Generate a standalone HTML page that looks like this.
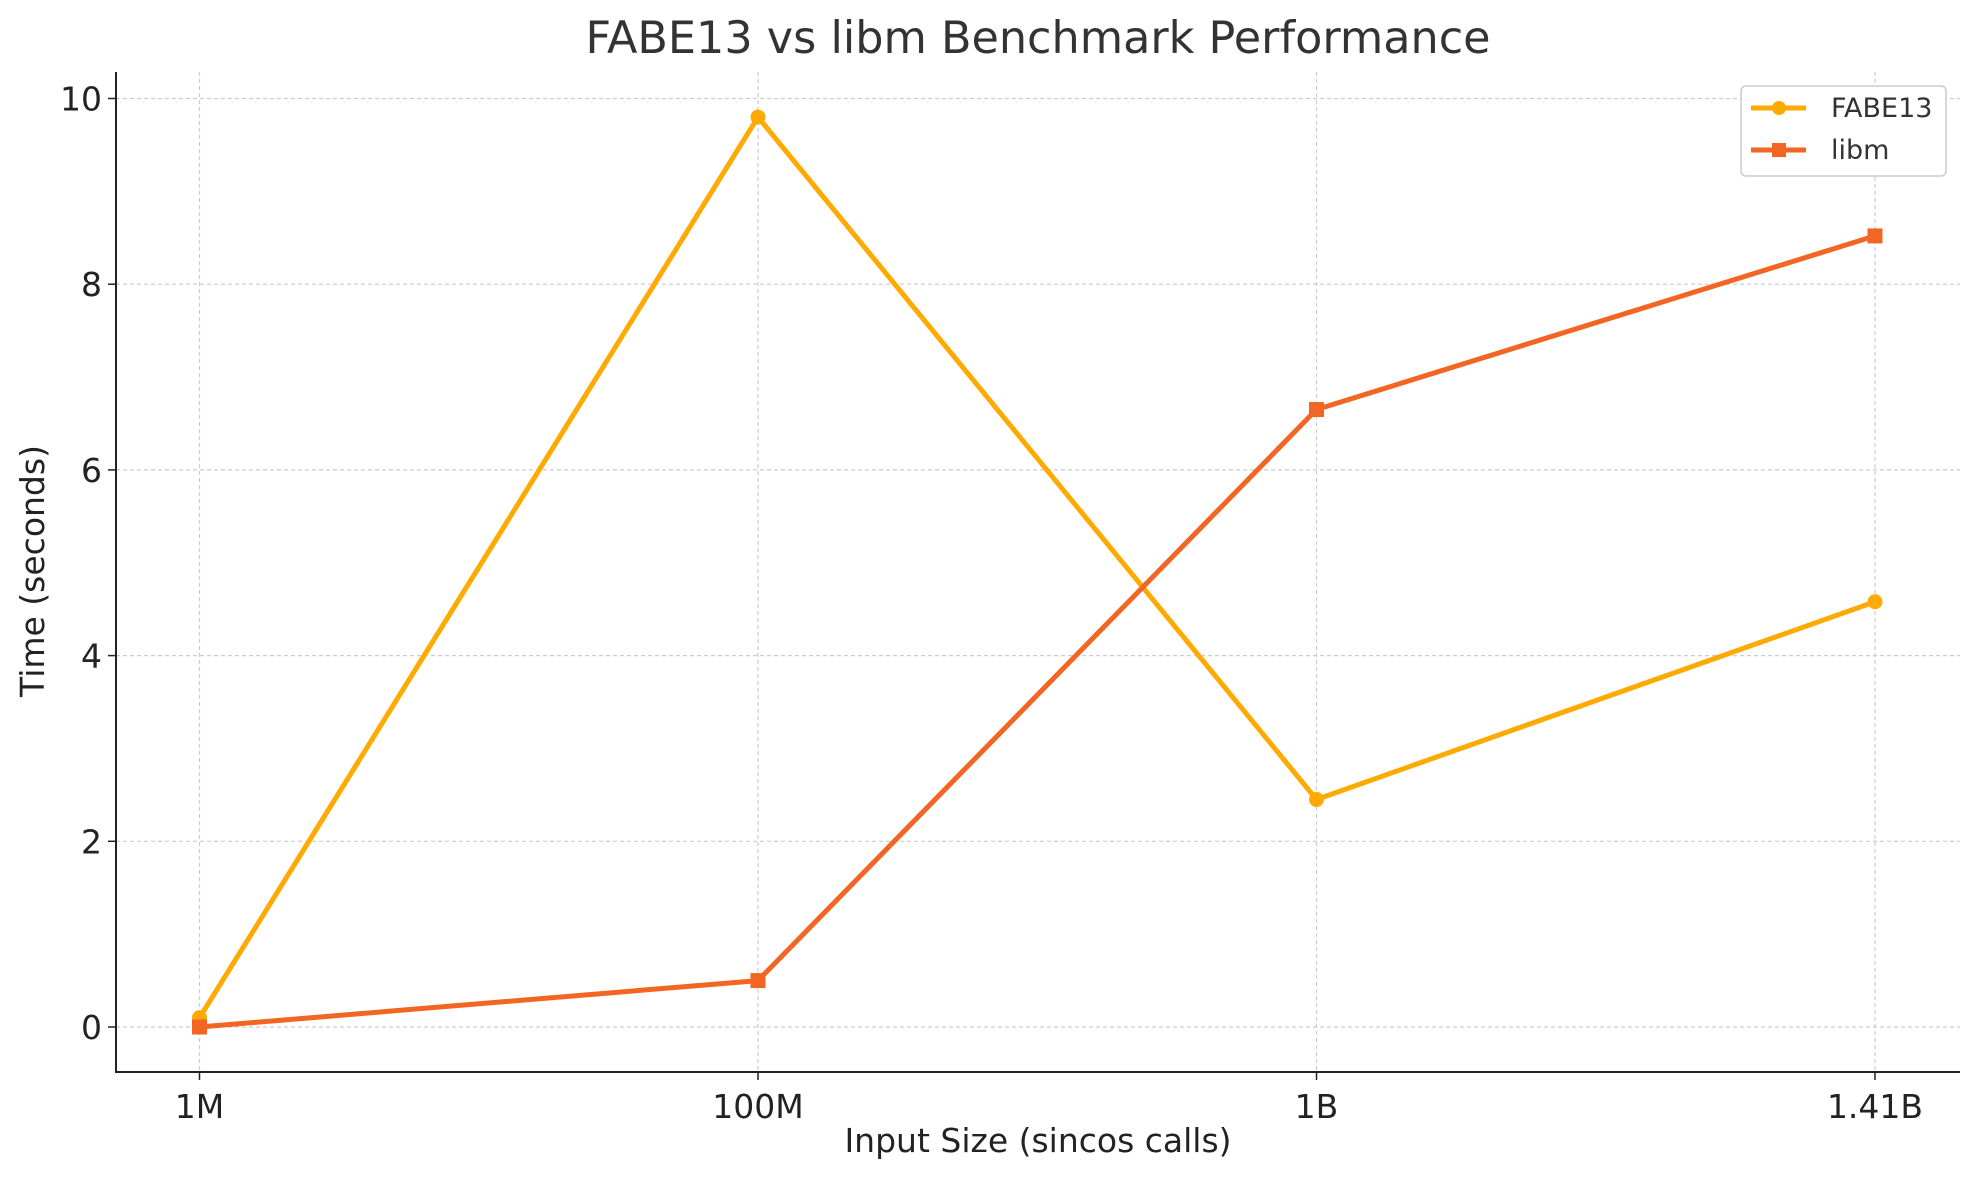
<!DOCTYPE html>
<html><head><meta charset="utf-8"><style>
html,body{margin:0;padding:0;background:#fff;}
svg{display:block;font-family:"DejaVu Sans","Liberation Sans",sans-serif;}
</style></head><body>
<svg id="chart" width="1980" height="1180" viewBox="0 0 1980 1180">
<text x="1038" y="53" text-anchor="middle" font-size="44.5" fill="#333">FABE13 vs libm Benchmark Performance</text>
<g id="grid"></g>
<g id="axes"></g>
<g id="series"></g>
<text x="1038" y="1152" text-anchor="middle" font-size="33" fill="#222">Input Size (sincos calls)</text>
<text transform="translate(44,571) rotate(-90)" text-anchor="middle" font-size="33" fill="#222">Time (seconds)</text>
<g>
<rect x="1741" y="86" width="205" height="90" rx="5" fill="#fff" stroke="#ccc" stroke-width="1.5"/>
<g>
<line x1="1751" y1="108" x2="1806" y2="108" stroke="#FFAA00" stroke-width="5"/>
<circle cx="1779" cy="108" r="7" fill="#FFAA00"/>
<text x="1831" y="117" font-size="27" fill="#333">FABE13</text>
</g>
<g>
<line x1="1751" y1="150" x2="1806" y2="150" stroke="#F26522" stroke-width="5"/>
<rect x="1772" y="143" width="14" height="14" fill="#F26522"/>
<text x="1831" y="159" font-size="27" fill="#333">libm</text>
</g>
</g>
</svg>
<script>
const categories = ["1M","100M","1B","1.41B"];
const fabe13 = [0.1, 9.8, 2.45, 4.58];
const libm = [0.0, 0.5, 6.65, 8.52];
const yTicks = [0,2,4,6,8,10];

const L=116,R=1960,T=72,B=1072;
const xPos=i=>199.5+i*(1875-199.5)/(categories.length-1);
const yPos=v=>1027-v*(1027-98.5)/10;
const NS="http://www.w3.org/2000/svg";
function mk(tag,attrs,parent){const e=document.createElementNS(NS,tag);for(const k in attrs)e.setAttribute(k,attrs[k]);parent.appendChild(e);return e;}
const grid=document.getElementById('grid'),axes=document.getElementById('axes'),ser=document.getElementById('series');
yTicks.forEach(v=>{
 const y=yPos(v);
 const g=mk('line',{x1:L,x2:R,y1:y,y2:y,stroke:'#ccc','stroke-width':1.2,'stroke-dasharray':'4,3'},grid);
 
 
 mk('line',{x1:L-8,x2:L,y1:y,y2:y,stroke:'#222','stroke-width':1.5},axes);
 const t=mk('text',{x:L-14,y:y+12,'text-anchor':'end','font-size':33,fill:'#222'},axes);
 t.textContent=v;
 
 
});
categories.forEach((c,i)=>{
 const x=xPos(i);
 const g=mk('line',{x1:x,x2:x,y1:T,y2:B,stroke:'#ccc','stroke-width':1.2,'stroke-dasharray':'4,3'},grid);
 
 
 mk('line',{x1:x,x2:x,y1:B,y2:B+8,stroke:'#222','stroke-width':1.5},axes);
 const t=mk('text',{x:x,y:B+46,'text-anchor':'middle','font-size':33,fill:'#222'},axes);
 t.textContent=c;
 
 
});
mk('path',{d:`M${L},${T} V${B} H${R}`,fill:'none',stroke:'#222','stroke-width':2},axes);
function drawSeries(vals,color,name,square){
 const pts=vals.map((v,i)=>xPos(i)+','+yPos(v)).join(' ');
 const pl=mk('polyline',{points:pts,fill:'none',stroke:color,'stroke-width':5,'stroke-linejoin':'round'},ser);
 
 
 vals.forEach((v,i)=>{
  let m;
  if(square) m=mk('rect',{x:xPos(i)-7.5,y:yPos(v)-7.5,width:15,height:15,fill:color},ser);
  else m=mk('circle',{cx:xPos(i),cy:yPos(v),r:7.5,fill:color},ser);
  
  
 });
}
drawSeries(fabe13,'#FFAA00','fabe13',false);
drawSeries(libm,'#F26522','libm',true);
</script>
</body></html>
